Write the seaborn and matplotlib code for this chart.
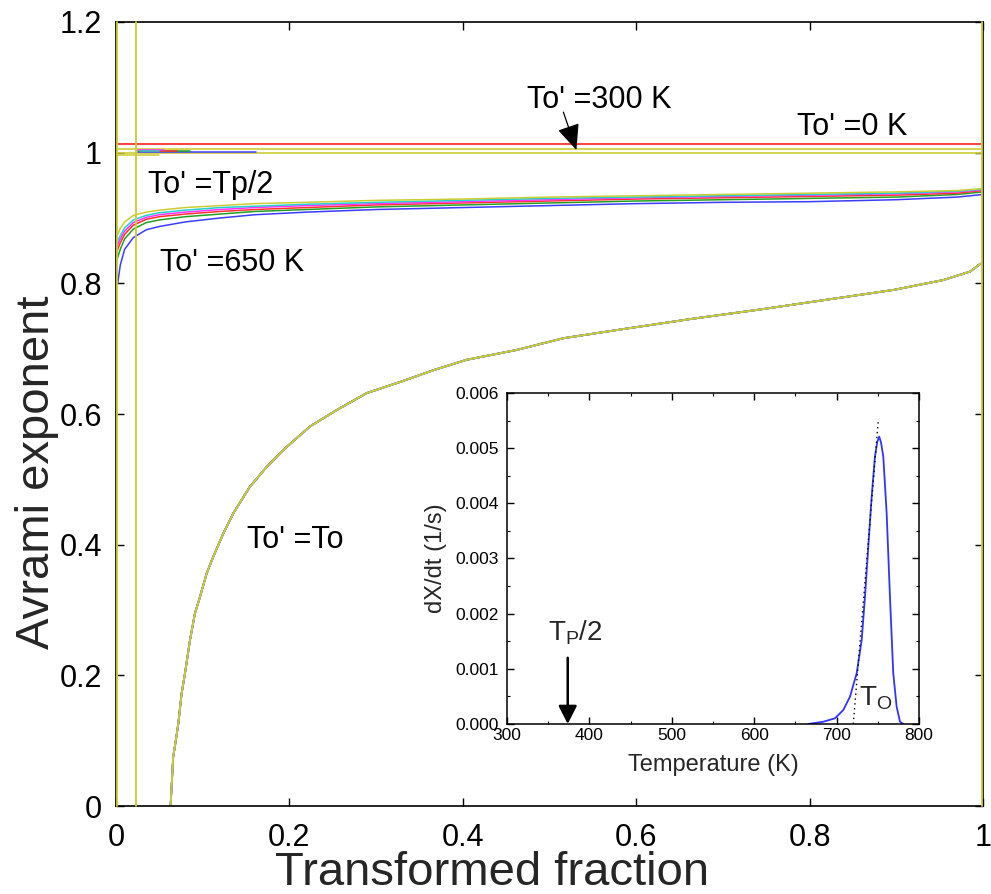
import numpy as np
import pandas as pd
import matplotlib
matplotlib.use("Agg")
import matplotlib.pyplot as plt
import seaborn as sns
from matplotlib.ticker import FuncFormatter, MultipleLocator

# ---------------- data ----------------
frac_grid = [0.0, 0.002, 0.005, 0.01, 0.02, 0.035, 0.05, 0.08, 0.12, 0.16,
             0.22, 0.3, 0.4, 0.5, 0.6, 0.7, 0.8, 0.9, 0.97, 1.0]
n_blue = [0.800, 0.800, 0.828, 0.852, 0.870, 0.882, 0.887, 0.894, 0.900, 0.905,
          0.909, 0.913, 0.916, 0.919, 0.922, 0.924, 0.925, 0.928, 0.932, 0.936]
n_green = [0.830, 0.840, 0.852, 0.868, 0.883, 0.893, 0.897, 0.902, 0.906, 0.910,
           0.913, 0.917, 0.920, 0.923, 0.926, 0.928, 0.930, 0.932, 0.936, 0.940]
n_red = [0.845, 0.852, 0.862, 0.875, 0.889, 0.898, 0.902, 0.906, 0.910, 0.913,
         0.916, 0.920, 0.923, 0.926, 0.929, 0.931, 0.933, 0.935, 0.938, 0.942]
n_magenta = [0.852, 0.859, 0.868, 0.880, 0.893, 0.901, 0.905, 0.909, 0.913, 0.916,
             0.919, 0.922, 0.925, 0.928, 0.931, 0.933, 0.935, 0.937, 0.940, 0.943]
n_cyan = [0.858, 0.865, 0.873, 0.885, 0.897, 0.904, 0.908, 0.912, 0.916, 0.918,
          0.921, 0.924, 0.927, 0.930, 0.932, 0.934, 0.936, 0.938, 0.941, 0.944]
n_yellow = [0.866, 0.875, 0.884, 0.894, 0.904, 0.909, 0.912, 0.916, 0.919, 0.922,
            0.924, 0.927, 0.929, 0.932, 0.934, 0.936, 0.938, 0.940, 0.942, 0.945]

# To' = To curve
to_frac = [0.063, 0.066, 0.069, 0.072, 0.0757, 0.0796, 0.0854, 0.0911, 0.0969,
           0.1046, 0.1123, 0.1238, 0.1353, 0.1546, 0.1738, 0.193, 0.2238, 0.2545,
           0.2892, 0.3276, 0.366, 0.4045, 0.462, 0.516, 0.590, 0.666, 0.743,
           0.820, 0.897, 0.954, 0.985, 0.997]
to_n = [0.0, 0.075, 0.100, 0.127, 0.172, 0.203, 0.254, 0.295, 0.320,
        0.356, 0.382, 0.417, 0.448, 0.489, 0.519, 0.545, 0.581, 0.606,
        0.632, 0.649, 0.667, 0.683, 0.698, 0.716, 0.731, 0.746, 0.760,
        0.775, 0.790, 0.805, 0.818, 0.830]

# horizontal levels near 1 (To' = 0 K / 300 K)
level_red = 1.013
level_yellow = [1.005, 0.9995]
short_levels = {"blue": (0.025, 0.162, 1.001), "green": (0.025, 0.085, 1.002),
                "red": (0.03, 0.07, 1.003), "magenta": (0.025, 0.055, 1.004),
                "cyan": (0.028, 0.05, 1.002), "yellow": (0.0, 0.05, 0.996)}
vertical_yellow = [0.001, 0.023, 0.999]

# inset: dX/dt vs temperature
temp_K = [665.7, 683.9, 698.1, 708.2, 716.3, 724.4, 730.5, 734.5, 738.5, 742.6,
          746.6, 749.5, 751.8, 754.0, 756.7, 760.8, 764.8, 768.8, 772.9, 777.0, 781.0]
rate = [0.0, 0.00004, 0.000103, 0.000254, 0.000495, 0.000918, 0.00152, 0.00231,
        0.00321, 0.00412, 0.00485, 0.00512, 0.00521, 0.00510, 0.00485, 0.00382,
        0.00231, 0.00092, 0.000314, 0.00004, 0.0]
tangent_T = [720.3, 750.5]
tangent_rate = [0.0, 0.00548]
tp_half = 373.7

# ---------------- style ----------------
sns.set_theme(style="ticks")
plt.rcParams["font.family"] = ["Liberation Sans", "DejaVu Sans"]
plt.rcParams["mathtext.fontset"] = "custom"
plt.rcParams["mathtext.rm"] = "Liberation Sans"
plt.rcParams["mathtext.it"] = "Liberation Sans:italic"
plt.rcParams["axes.linewidth"] = 1.2

colors = {"blue": "#3c3cff", "green": "#22a022", "red": "#ff3030",
          "magenta": "#ff30ff", "cyan": "#20d0d0", "yellow": "#cccc33"}

fig = plt.figure(figsize=(9.91, 8.94), dpi=100)
ax = fig.add_axes([0.117, 0.0984, 0.875, 0.877])

fam = {"blue": n_blue, "green": n_green, "red": n_red,
       "magenta": n_magenta, "cyan": n_cyan, "yellow": n_yellow}
df = pd.concat([pd.DataFrame({"x": frac_grid, "y": v, "curve": k}) for k, v in fam.items()])
sns.lineplot(data=df, x="x", y="y", hue="curve", palette=colors, sort=False,
             estimator=None, legend=False, linewidth=1.1, ax=ax)

# To'=To curve: all colors overlapping, yellow on top
df_to = pd.concat([pd.DataFrame({"x": to_frac, "y": to_n, "curve": k}) for k in colors])
sns.lineplot(data=df_to, x="x", y="y", hue="curve", palette=colors, sort=False,
             estimator=None, legend=False, linewidth=1.3, ax=ax)

ax.axhline(level_red, color=colors["red"], lw=1.3)
for lv in level_yellow:
    ax.axhline(lv, color=colors["yellow"], lw=1.2)
for k, (x0, x1, yv) in short_levels.items():
    ax.plot([x0, x1], [yv, yv], color=colors[k], lw=1.1)
for xv in vertical_yellow:
    ax.plot([xv, xv], [0, 1.2], color=colors["yellow"], lw=1.3, zorder=3, clip_on=False)

ax.set_xlim(0, 1)
ax.set_ylim(0, 1.2)
ax.xaxis.set_major_locator(MultipleLocator(0.2))
ax.yaxis.set_major_locator(MultipleLocator(0.2))
fmt = FuncFormatter(lambda v, p: f"{v:g}")
ax.xaxis.set_major_formatter(fmt)
ax.yaxis.set_major_formatter(fmt)
ax.tick_params(direction="in", length=6, width=1, labelsize=22, pad=10,
               top=True, right=True, colors="black")
ax.tick_params(axis="x", pad=12)
ax.set_xlabel("Transformed fraction", fontsize=34)
ax.set_ylabel("Avrami exponent", fontsize=34)
ax.xaxis.set_label_coords(0.434, -0.057)
ax.yaxis.set_label_coords(-0.091, 0.426)
ax.xaxis.label.set_va("top")
ax.yaxis.label.set_va("center")
for s in ax.spines.values():
    s.set_color("black")

txt = dict(fontsize=22, color="black")
ax.text(0.474, 1.080, "To' =300 K", ha="left", va="center", **txt)
ax.text(0.785, 1.040, "To' =0 K", ha="left", va="center", **txt)
ax.text(0.037, 0.950, "To' =Tp/2", ha="left", va="center", **txt)
ax.text(0.051, 0.831, "To' =650 K", ha="left", va="center", **txt)
ax.text(0.151, 0.407, "To' =To", ha="left", va="center", **txt)
ax.annotate("", xy=(0.531, 1.004), xytext=(0.516, 1.062),
            arrowprops=dict(arrowstyle="-|>,head_length=0.8,head_width=0.35",
                            mutation_scale=20, color="black", lw=0.9,
                            shrinkA=0, shrinkB=0))

# ---------------- inset ----------------
ins = fig.add_axes([0.5116, 0.1902, 0.4157, 0.3702])
ins.set_facecolor("white")
sns.lineplot(x=temp_K, y=rate, color="#3333ff", lw=1.3, ax=ins, sort=False, estimator=None)
ins.plot(tangent_T, tangent_rate, color="black", lw=1, ls=(0, (1, 2.5)))
ins.set_xlim(300, 800)
ins.set_ylim(0, 0.006)
ins.xaxis.set_major_locator(MultipleLocator(100))
ins.xaxis.set_minor_locator(MultipleLocator(50))
ins.yaxis.set_major_locator(MultipleLocator(0.001))
ins.yaxis.set_minor_locator(MultipleLocator(0.0005))
ins.yaxis.set_major_formatter(FuncFormatter(lambda v, p: f"{v:.3f}"))
ins.tick_params(which="both", direction="in", top=True, right=True, colors="black",
                labelsize=12.5)
ins.tick_params(which="major", length=5, width=1, pad=6)
ins.tick_params(which="minor", length=2.5, width=0.8)
ins.tick_params(axis="x", which="major", pad=3)
for s in ins.spines.values():
    s.set_color("black")
    s.set_linewidth(1.1)
ins.set_xlabel("Temperature (K)", fontsize=17, labelpad=8)
ins.set_ylabel("dX/dt (1/s)", fontsize=17, labelpad=6)
ins.text(349.8, 0.00152, r"T$_\mathrm{P}$/2", fontsize=20, ha="left", va="baseline")
ins.text(727, 0.00033, r"T$_\mathrm{O}$", fontsize=20, ha="left", va="baseline")
ins.annotate("", xy=(tp_half, 0.0), xytext=(tp_half, 0.0012),
             arrowprops=dict(arrowstyle="-|>,head_length=0.55,head_width=0.28",
                             mutation_scale=20, color="black", lw=1.8,
                             shrinkA=0, shrinkB=0))

fig.savefig("out.png", dpi=100)
